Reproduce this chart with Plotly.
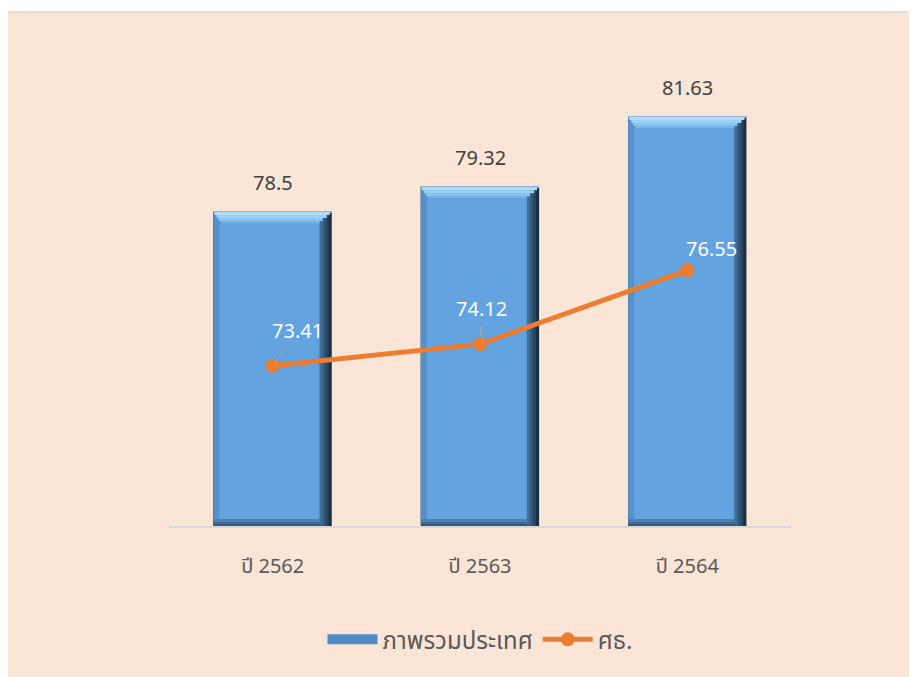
import plotly.graph_objects as go

categories = ["ปี 2562", "ปี 2563", "ปี 2564"]
national = [78.5, 79.32, 81.63]
moe = [73.41, 74.12, 76.55]
series_names = ["ภาพรวมประเทศ", "ศธ."]

Y_MIN, Y_MAX = 68.1, 84.1
x = list(range(len(categories)))

FONT = "Tahoma, Noto Sans Thai, Noto Sans, DejaVu Sans, sans-serif"
PX = 1 / 207.0    # one pixel in category units
W = 118 * PX      # bar width
VPX = 1 / 30.4    # one pixel in value units

fig = go.Figure()


def layer(left_px, right_px, bottom_px, top_px, color):
    """A bevel layer spanning pixels inside each bar (styling only)."""
    width = W - (left_px + right_px) * PX
    offset = -W / 2 + left_px * PX
    bases = [Y_MIN + bottom_px * VPX for _ in national]
    heights = [v - Y_MIN - (bottom_px + top_px) * VPX for v in national]
    fig.add_trace(go.Bar(x=x, y=heights, base=bases, width=width, offset=offset,
                         marker=dict(color=color, line=dict(width=0)),
                         showlegend=False, hoverinfo="skip"))


def top_band(left_px, right_px, depth_px, thick_px, color):
    width = W - (left_px + right_px) * PX
    offset = -W / 2 + left_px * PX
    bases = [v - (depth_px + thick_px) * VPX for v in national]
    fig.add_trace(go.Bar(x=x, y=[thick_px * VPX] * len(national), base=bases, width=width, offset=offset,
                         marker=dict(color=color, line=dict(width=0)),
                         showlegend=False, hoverinfo="skip"))


# outer dark edge / right bevel steps
layer(0, 0, 0, 0, "#1B2E42")
layer(0, 3, 0, 0, "#27455F")
layer(0, 6, 1, 0, "#33597C")
layer(0, 9, 3, 0, "#3F6D98")
layer(0, 12, 5, 0, "#4A80B4")
# left bevel
layer(0, 12, 8, 0, "#5590C9")
# main face
layer(6, 13, 8, 12, "#62A3E0")
# top bevel (approx trapezoid)
top_band(0, 0, 0, 1, "#8FB4D4")
top_band(1, 2, 1, 3, "#B2DCF8")
top_band(3, 5, 4, 3, "#9ED0F5")
top_band(5, 9, 7, 3, "#8BC4F0")
top_band(7, 12, 10, 2, "#76B4E8")

# legend-only entry for the bar series
fig.add_trace(go.Scatter(x=[None], y=[None], mode="lines", name=series_names[0],
                         line=dict(color="#4F8AC3", width=14), hoverinfo="skip"))

# line series
fig.add_trace(go.Scatter(x=x, y=moe, mode="lines+markers", name=series_names[1],
                         line=dict(color="#ED7D31", width=5),
                         marker=dict(color="#ED7D31", size=14), hoverinfo="skip"))

annotations = []
for xi, v in zip(x, national):
    annotations.append(dict(x=xi, y=v, xref="x", yref="y", text=str(v), showarrow=False,
                            yshift=27, font=dict(size=20, color="#404040", family=FONT)))
label_offsets = [(25, -34, True), (1, -34, True), (24, 20, False)]
for xi, v, (ax, ay, arrow) in zip(x, moe, label_offsets):
    if arrow:
        annotations.append(dict(x=xi, y=v, xref="x", yref="y", text=f"{v:.2f}",
                                showarrow=True, arrowhead=0, arrowwidth=1, arrowcolor="#A6A6A6",
                                ax=ax, ay=ay, standoff=4,
                                font=dict(size=20, color="#FFFFFF", family=FONT)))
    else:
        annotations.append(dict(x=xi, y=v, xref="x", yref="y", text=f"{v:.2f}",
                                showarrow=False, xshift=ax, yshift=ay,
                                font=dict(size=20, color="#FFFFFF", family=FONT)))

fig.update_layout(
    width=917, height=677,
    margin=dict(l=161, r=134, t=33, b=158),
    paper_bgcolor="#FFFFFF",
    plot_bgcolor="rgba(0,0,0,0)",
    barmode="overlay",
    font=dict(family=FONT, color="#595959", size=20),
    showlegend=True,
    legend=dict(orientation="h", x=0.5, xanchor="center", y=-0.232, yanchor="middle",
                font=dict(size=24, color="#595959", family=FONT), bgcolor="rgba(0,0,0,0)",
                itemwidth=50),
    annotations=annotations,
    shapes=[dict(type="rect", xref="paper", yref="paper", x0=-0.2605, x1=1.25, y0=-0.35, y1=1.0597,
                 fillcolor="#FBE5D6", line=dict(color="#D9D9D9", width=1.5), layer="below")],
    xaxis=dict(tickmode="array", tickvals=x, ticktext=categories, range=[-0.5, 2.5],
               showgrid=False, zeroline=False, showline=False,
               ticks="outside", ticklen=21, tickcolor="rgba(0,0,0,0)",
               tickfont=dict(size=20, color="#595959", family=FONT)),
    yaxis=dict(range=[Y_MIN, Y_MAX], visible=False, showgrid=False),
)
fig.add_shape(type="line", xref="paper", yref="paper", x0=0, x1=1, y0=0, y1=0,
              line=dict(color="#D9D9D9", width=2), layer="above")

fig.write_html("out.html")
